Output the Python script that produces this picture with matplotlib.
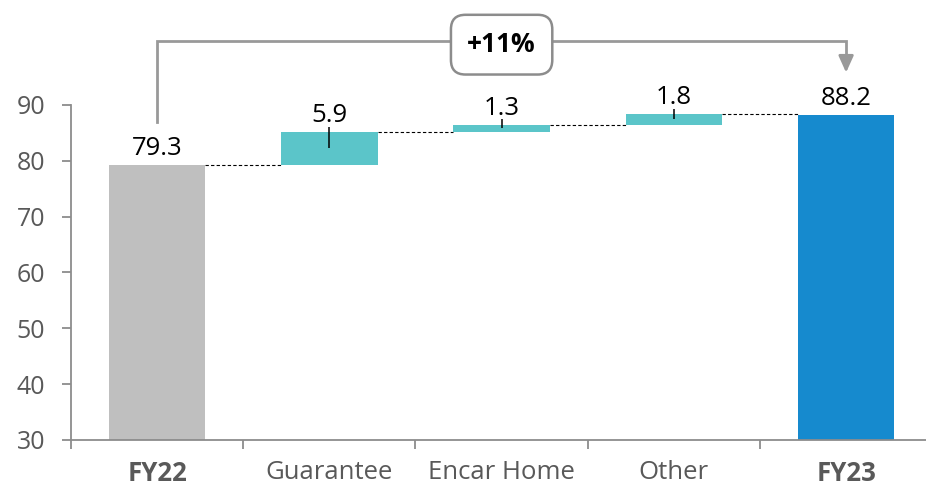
import numpy as np
import matplotlib.pyplot as plt

plt.rcParams['font.family'] = ['Open Sans', 'DejaVu Sans']

categories = ['FY22', 'Guarantee', 'Encar Home', 'Other', 'FY23']
start_value = 79.3
steps = [5.9, 1.3, 1.8]
end_value = 88.2
y_ticks = [30, 40, 50, 60, 70, 80, 90]

GREY = '#BFBFBF'
TEAL = '#5BC5C9'
BLUE = '#168ACE'
TEXT_GREY = '#595959'
AXIS_GREY = '#8C8C8C'

# bottoms / heights of the waterfall
bottoms = [30]
heights = [start_value - 30]
level = start_value
for s in steps:
    bottoms.append(level)
    heights.append(s)
    level += s
bottoms.append(30)
heights.append(end_value - 30)
colors = [GREY] + [TEAL] * len(steps) + [BLUE]
tops = [b + h for b, h in zip(bottoms, heights)]
labels = [start_value] + steps + [end_value]

fig = plt.figure(figsize=(9.26, 4.86), dpi=100)
ax = fig.add_axes([0.0767, 0.0947, 0.93, 0.9053])

x = np.arange(len(categories))
w = 0.56
ax.bar(x, heights, bottom=bottoms, width=w, color=colors, zorder=2)

# dashed connectors between bar tops
for i in range(len(categories) - 1):
    lvl = tops[i]
    ax.plot([x[i] + w / 2, x[i + 1] - w / 2], [lvl, lvl], color='black',
            lw=0.8, dashes=(3, 2), zorder=1)

# value labels
for i, v in enumerate(labels):
    ax.annotate(f'{v:.1f}', (x[i], tops[i]), xytext=(0, 7.2),
                textcoords='offset points', ha='center', va='baseline',
                fontsize=18.5, color='black', zorder=4)

# little leader ticks on the step bars
for i in range(1, len(categories) - 1):
    mid = bottoms[i] + heights[i] / 2
    ax.plot([x[i], x[i]], [mid, tops[i] + 0.9], color='black', lw=1.1,
            zorder=3, solid_capstyle='butt')

# growth bracket from FY22 to FY23
growth = (end_value / start_value - 1) * 100
y_br = 101.5
ax.plot([x[0], x[0], x[-1], x[-1]], [87.0, y_br, y_br, 98.4],
        color='#999999', lw=2.0, clip_on=False, zorder=3,
        solid_joinstyle='miter')
ax.annotate('', xy=(x[-1], 95.8), xytext=(x[-1], 98.6),
            arrowprops=dict(arrowstyle='-|>,head_length=1.0,head_width=0.45',
                            color='#999999', lw=2.0, shrinkA=0, shrinkB=0))
ax.text(2.0, y_br - 0.7, f'+{growth:.0f}%', ha='center', va='center',
        fontsize=19, fontweight='bold', color='black', zorder=5,
        bbox=dict(boxstyle='round,pad=0.62,rounding_size=0.55',
                  fc='white', ec=AXIS_GREY, lw=1.8))

ax.set_xlim(-0.5, 4.5)
ax.set_ylim(30, 108.8)

ax.set_yticks(y_ticks)
ax.tick_params(axis='y', length=6.5, width=1.3, color=AXIS_GREY,
               labelsize=18, labelcolor=TEXT_GREY, pad=12)
ax.set_xticks(x)
ax.set_xticklabels(categories)
ax.set_xticks(np.arange(-0.5, 4.6, 1), minor=True)
ax.tick_params(axis='x', which='major', length=0, labelsize=18.5,
               labelcolor=TEXT_GREY, pad=14.5)
ax.tick_params(axis='x', which='minor', length=6.5, width=1.3, color=AXIS_GREY)
for lab in ax.get_xticklabels():
    if lab.get_text() in ('FY22', 'FY23'):
        lab.set_fontweight('bold')

for side in ('top', 'right'):
    ax.spines[side].set_visible(False)
ax.spines['left'].set_bounds(30, 90)
for side in ('left', 'bottom'):
    ax.spines[side].set_color(AXIS_GREY)
    ax.spines[side].set_linewidth(1.3)

fig.savefig('out.png', dpi=100)
